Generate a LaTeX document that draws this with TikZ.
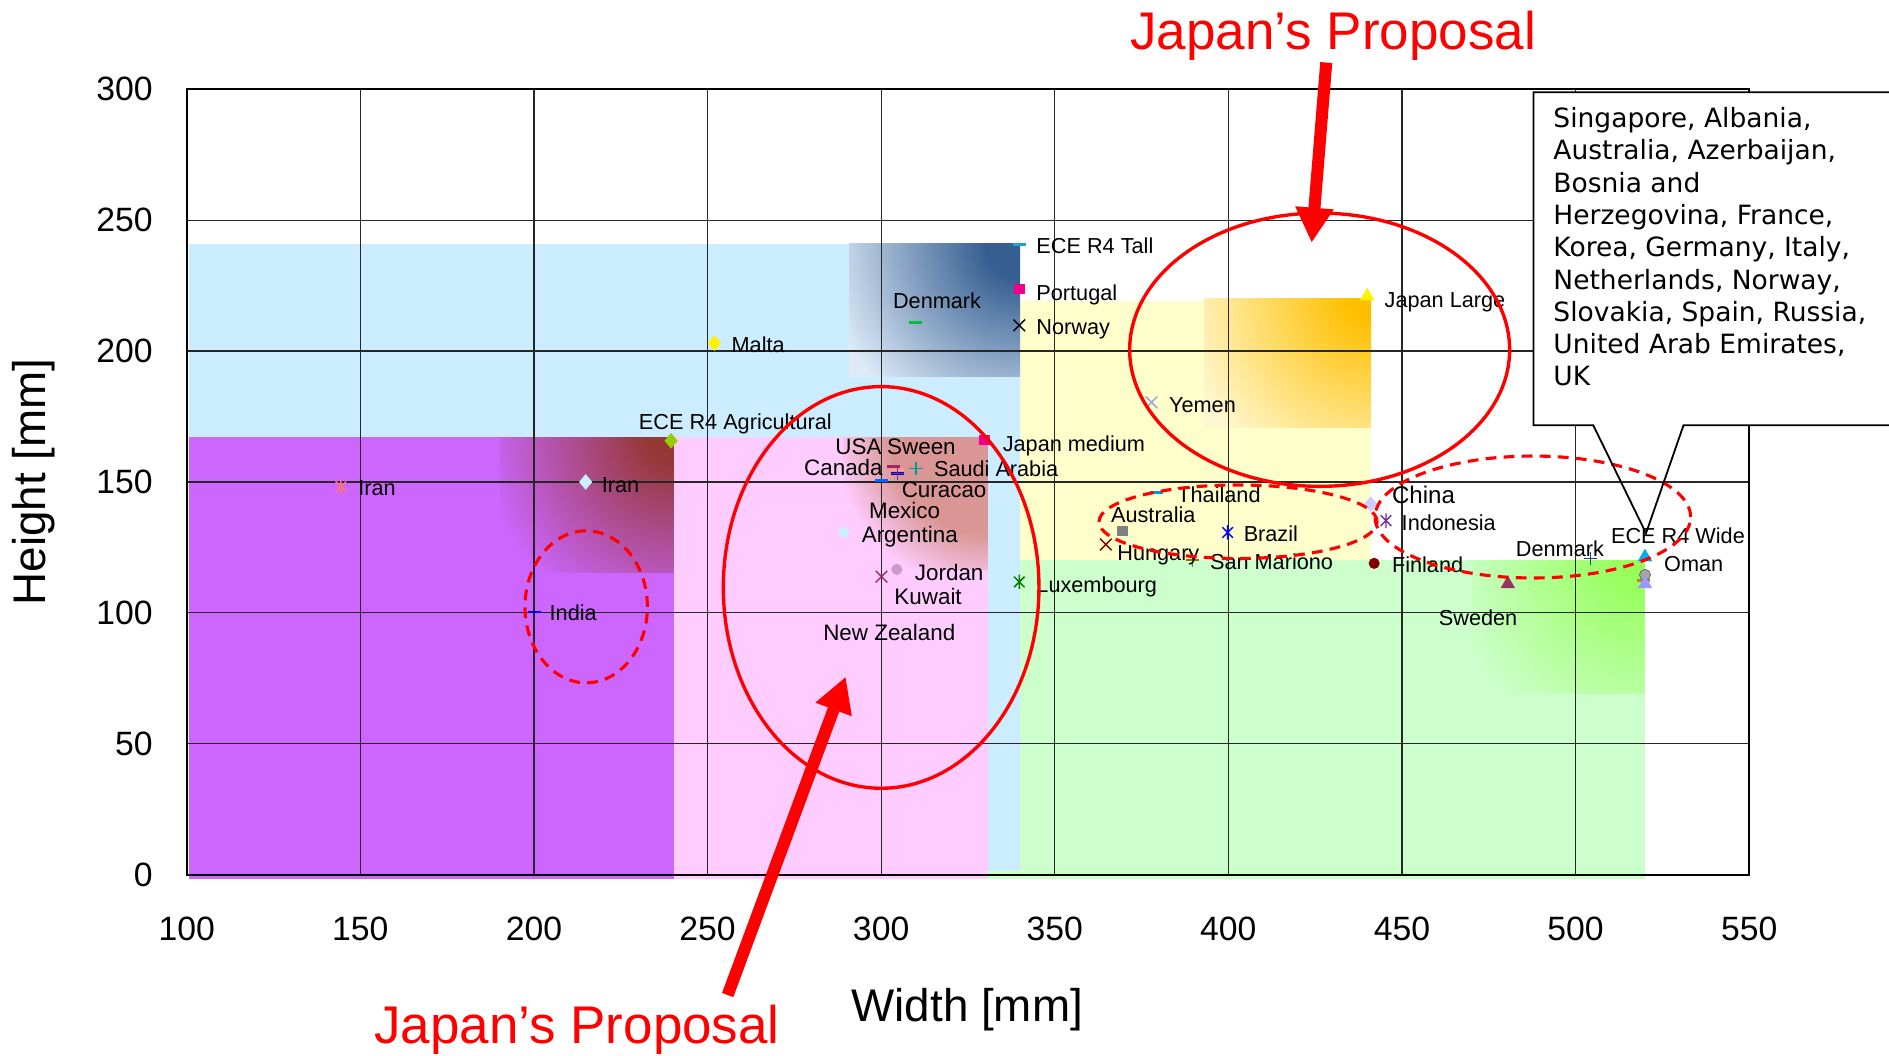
\documentclass[tikz,border=0pt]{standalone}
\usepackage{fontspec}
\setmainfont{Liberation Sans}
\newfontfamily\dvs{DejaVu Sans}
\usetikzlibrary{shapes.geometric,arrows.meta}

\definecolor{lblue}{RGB}{204,236,255}
\definecolor{cpurple}{RGB}{204,102,255}
\definecolor{cpink}{RGB}{255,204,255}
\definecolor{cgreen}{RGB}{204,255,204}
\definecolor{cyellow}{RGB}{255,255,204}
\definecolor{agri}{RGB}{153,204,0}
\definecolor{plum}{RGB}{153,51,102}
\definecolor{dred}{RGB}{128,0,0}
\definecolor{olivec}{RGB}{128,128,0}
\definecolor{navyc}{RGB}{31,73,125}
\definecolor{tealc}{RGB}{0,153,153}
\definecolor{indig}{RGB}{112,48,160}

\pgfdeclareradialshading{shA}{\pgfpoint{0bp}{0bp}}{rgb(0bp)=(0.584,0.216,0.208); rgb(2.5bp)=(0.584,0.216,0.208); rgb(20bp)=(0.8,0.4,1); rgb(50bp)=(0.8,0.4,1)}
\pgfdeclareradialshading{shB}{\pgfpoint{0bp}{0bp}}{rgb(0bp)=(0.85,0.59,0.58); rgb(12.5bp)=(0.85,0.59,0.58); rgb(20bp)=(1,0.8,1); rgb(50bp)=(1,0.8,1)}
\pgfdeclareradialshading{shC}{\pgfpoint{0bp}{0bp}}{rgb(0bp)=(0.21,0.37,0.57); rgb(4bp)=(0.21,0.37,0.57); rgb(23bp)=(0.87,0.92,0.97); rgb(50bp)=(0.87,0.92,0.97)}
\pgfdeclareradialshading{shD}{\pgfpoint{0bp}{0bp}}{rgb(0bp)=(1,0.75,0); rgb(2.5bp)=(1,0.75,0); rgb(22.5bp)=(1,0.97,0.82); rgb(50bp)=(1,0.97,0.82)}
\pgfdeclareradialshading{shE}{\pgfpoint{0bp}{0bp}}{rgb(0bp)=(0.59,1,0.35); rgb(2.5bp)=(0.59,1,0.35); rgb(22.5bp)=(0.8,1,0.8); rgb(50bp)=(0.8,1,0.8)}

\tikzset{
  mk/.style={inner sep=0pt, outer sep=0pt},
  dia/.style={mk, diamond, fill=#1, minimum width=5.5pt, minimum height=6.5pt},
  sqm/.style={mk, rectangle, fill=#1, minimum size=4.4pt},
  dotm/.style={mk, circle, fill=#1, minimum size=4.6pt},
  trim/.style={mk, regular polygon, regular polygon sides=3, fill=#1, minimum size=7pt},
  dshm/.style={mk, rectangle, fill=#1, minimum width=5.4pt, minimum height=1.2pt},
  pics/xm/.style={code={\draw[#1,line width=0.6pt] (-2.4pt,-2.4pt)--(2.4pt,2.4pt) (-2.4pt,2.4pt)--(2.4pt,-2.4pt);}},
  pics/pm/.style={code={\draw[#1,line width=0.6pt] (-2.8pt,0pt)--(2.8pt,0pt) (0pt,-2.8pt)--(0pt,2.8pt);}},
  pics/am/.style={code={\draw[#1,line width=0.6pt] (-2.2pt,-2.2pt)--(2.2pt,2.2pt) (-2.2pt,2.2pt)--(2.2pt,-2.2pt) (0pt,-3pt)--(0pt,3pt);}},
  lbl/.style={inner sep=0pt, anchor=base west, font=\fontsize{9}{10}\selectfont},
  lblb/.style={lbl, font=\fontsize{9.3}{10}\selectfont},
  tick/.style={inner sep=0pt, font=\fontsize{14}{16}\selectfont},
  gridl/.style={black!85, line width=0.5pt},
  redsolid/.style={red, line width=1.4pt},
  reddash/.style={red, line width=1.3pt, dash pattern=on 4.5pt off 3pt},
  redarrow/.style={red, line width=5pt, -{Triangle[length=14.5pt,width=15pt]}},
  redtitle/.style={red, inner sep=0pt, anchor=base, font=\fontsize{22}{26}\selectfont},
}

\begin{document}
\begin{tikzpicture}
\path[use as bounding box, fill=white] (0pt,0pt) rectangle (784pt,438pt);
\clip (0pt,0pt) rectangle (784pt,438pt);
\begin{scope}[shift={(-66.6pt,75pt)}, x=1.441pt, y=1.0865pt]
  % background regions
  \fill[cgreen] (330.7,-1.8) rectangle (520,120.1);
  \fill[lblue] (100.7,1.5) rectangle (340,241);
  \fill[cpurple] (100.7,-1.8) rectangle (240.2,167);
  \fill[cpink] (240.2,-1.8) rectangle (330.7,167);
  \fill[cyellow] (340,120.1) rectangle (441.1,219.3);
  % gradient patches
  \begin{scope}
    \clip (190.2,115.5) rectangle (240.2,167);
    \shade[shading=shA] (240.2,167) circle (100pt);
  \end{scope}
  \begin{scope}
    \clip (289.1,116.4) rectangle (330.7,167);
    \shade[shading=shB] (330.7,167) circle (80pt);
  \end{scope}
  \begin{scope}
    \clip (290.8,190.1) rectangle (340,241);
    \shade[shading=shC] (340,241) circle (90pt);
  \end{scope}
  \begin{scope}
    \clip (393.2,170.7) rectangle (441.1,220.2);
    \shade[shading=shD] (441.1,220.2) circle (90pt);
  \end{scope}
  \begin{scope}
    \clip (470.2,69) rectangle (520,120.1);
    \shade[shading=shE] (520,120.1) circle (90pt);
  \end{scope}
  % grid
  \foreach \gx in {150,200,...,500} \draw[gridl] (\gx,0) -- (\gx,300);
  \foreach \gy in {50,100,...,250} \draw[gridl] (100,\gy) -- (550,\gy);
  \draw[black, line width=0.9pt] (100,0) rectangle (550,300);

  % markers
  \pic at (144.4,148.2) {am={red!40!pink}};
  \node[dia={cyan!20}] (m2) at (214.9,150) {};
  \node[dia=agri] (m3) at (239.5,165.7) {};
  \node[dia=yellow] (m4) at (252,203) {};
  \node[dshm=blue] (m5) at (200.3,100.3) {};
  \node[dshm={green!50!teal}] (m6) at (310,210.8) {};
  \node[dshm={cyan!70!teal}] (m7) at (339.8,240.7) {};
  \node[sqm=magenta] (m8) at (339.8,223.7) {};
  \pic at (339.8,209.8) {xm=black};
  \node[sqm=magenta] (m10) at (329.7,166) {};
  \node[dshm={blue!60!cyan}] (m11) at (300.1,150.7) {};
  \node[dshm={plum!80!purple}] (m12) at (303.5,155.8) {};
  \node[dshm={red!40}] (m13) at (304.7,154.7) {};
  \node[dshm={blue!70!black}] (m14) at (304.7,153.2) {};
  \pic at (304.7,153.2) {pm=indig};
  \pic at (310,155.2) {pm=tealc};
  \node[dotm={cyan!20}] (m17) at (289.3,130.7) {};
  \node[dotm={violet!40}] (m18) at (304.5,116.6) {};
  \pic at (300.1,113.8) {xm=plum};
  \pic at (339.8,111.8) {am={green!50!black}};
  \node[sqm=gray] (m21) at (369.6,131.2) {};
  \node[dshm={cyan!80!blue}] (m22) at (379.3,145.9) {};
  \pic at (364.7,126.1) {xm=dred};
  \pic at (399.8,130.7) {am=blue};
  \pic at (389.7,120.1) {pm=olivec};
  \pic at (377.9,180.4) {xm={cyan!30!blue!40}};
  \node[trim=yellow] (m27) at (440,221) {};
  \node[dia={blue!20}] (m28) at (441,141.5) {};
  \pic at (445.4,135.2) {am=indig};
  \node[dotm=dred] (m30) at (442,118.9) {};
  \node[trim=plum] (m31) at (480.5,111) {};
  \pic at (504.3,120.8) {pm=navyc};
  \node[trim=cyan] (m33) at (520,121.3) {};
  \node[dshm=brown] (m34) at (519.5,112.5) {};
  \node[dotm=gray!70, draw=black!60, line width=0.3pt] (m35) at (520,114.5) {};
  \node[trim={blue!40}] (m36) at (520,111) {};

  % labels
  \node[lbl] (l1) at (149.3,144.7) {Iran};
  \node[lbl] (l2) at (219.4,146.1) {Iran};
  \node[lbl] (l3) at (230.1,170.0) {ECE R4 Agricultural};
  \node[lbl] (l4) at (256.8,199.5) {Malta};
  \node[lbl] (l5) at (204.4,96.9) {India};
  \node[lbl] (l6) at (303.3,216.1) {Denmark};
  \node[lbl] (l7) at (344.6,237.2) {ECE R4 Tall};
  \node[lbl] (l8) at (344.6,219.3) {Portugal};
  \node[lbl] (l9) at (344.6,206.4) {Norway};
  \node[lbl] (l10) at (334.9,161.7) {Japan medium};
  \node[lblb] (l11) at (286.7,160.4) {USA};
  \node[lblb] (l12) at (301.6,160.4) {Sween};
  \node[lblb] (l13) at (277.7,152.5) {Canada};
  \node[lbl] (l14) at (315.1,152.2) {Saudi Arabia};
  \node[lblb] (l15) at (305.8,143.9) {Curacao};
  \node[lblb] (l16) at (296.4,136.2) {Mexico};
  \node[lblb] (l17) at (294.3,126.8) {Argentina};
  \node[lblb] (l18) at (309.6,112.5) {Jordan};
  \node[lblb] (l19) at (303.7,103.3) {Kuwait};
  \node[lblb] (l20) at (283.2,89.5) {New Zealand};
  \node[lbl] (l21) at (344.6,107.9) {Luxembourg};
  \node[lbl] (l22) at (366.1,134.6) {Australia};
  \node[lbl] (l23) at (385.2,142.0) {Thailand};
  \node[lbl] (l24) at (367.9,119.9) {Hungary};
  \node[lbl] (l25) at (404.3,127.2) {Brazil};
  \node[lbl] (l26) at (394.6,116.6) {San Mariono};
  \node[lbl] (l27) at (382.8,176.5) {Yemen};
  \node[lbl] (l28) at (444.9,216.5) {Japan Large};
  \node[lbl, font=\fontsize{10}{11}\selectfont] (l29) at (447.0,141.7) {China};
  \node[lbl] (l30) at (449.8,131.4) {Indonesia};
  \node[lbl] (l31) at (447.0,115.3) {Finland};
  \node[lbl] (l32) at (460.5,95.0) {Sweden};
  \node[lbl] (l33) at (482.7,121.7) {Denmark};
  \node[lbl] (l34) at (510.1,126.3) {ECE R4 Wide};
  \node[lbl] (l35) at (525.4,115.7) {Oman};

  % ellipses
  \draw[redsolid] (300.0,109.7) ellipse [x radius=65.5pt, y radius=83.35pt];
  \draw[redsolid] (426.3,200.5) ellipse [x radius=78.85pt, y radius=56.7pt];
  \draw[reddash] (215.05,102.3) ellipse [x radius=25.4pt, y radius=31.55pt];
  \draw[reddash] (402.8,134.8) ellipse [x radius=57.7pt, y radius=15.25pt];
  \draw[reddash] (487.7,136.6) ellipse [x radius=65.5pt, y radius=25.3pt];

  % titles and arrows
  \node[redtitle] (t1) at (430.2,315.2) {Japan’s Proposal};
  \node[redtitle] (t2) at (212.4,-64.4) {Japan’s Proposal};
  \coordinate (a1s) at (428.2,310.2);
  \coordinate (a1e) at (424.0,241.4);
  \coordinate (a2s) at (255.8,-46.0);
  \coordinate (a2e) at (289.8,75.6);
  \draw[redarrow] (a1s) -- (a1e);
  \draw[redarrow] (a2s) -- (a2e);

  % callout
  \coordinate (tip) at (520.3,130.4);
  \fill[white] (487.9,298.85) rectangle (592.7,171.65);
  \draw[black, line width=0.75pt] (505.1,171.65) -- (487.9,171.65) -- (487.9,298.85) -- (592.7,298.85) -- (592.7,171.65) -- (531.1,171.65) -- (tip) -- cycle;
  \node[inner sep=0pt, anchor=north west, align=left, font=\dvs\fontsize{11}{13.4}\selectfont] (callout) at (493.5,293.2) {Singapore, Albania,\\Australia, Azerbaijan,\\Bosnia and\\Herzegovina, France,\\Korea, Germany, Italy,\\Netherlands, Norway,\\Slovakia, Spain, Russia,\\United Arab Emirates,\\UK};

  % tick labels
  \foreach \v in {0,50,...,300} \node[tick, anchor=east] (ty\v) at (90.3,\v) {\v};
  \foreach \v in {100,150,...,550} \node[tick] (tx\v) at (\v,-20.7) {\v};
  \node[inner sep=0pt, anchor=base, font=\fontsize{19}{22}\selectfont] (xt) at (324.8,-56.1) {Width [mm]};
  \node[inner sep=0pt, anchor=base, rotate=90, font=\fontsize{19}{22}\selectfont] (yt) at (59.4,150) {Height [mm]};
\end{scope}
\end{tikzpicture}
\end{document}
